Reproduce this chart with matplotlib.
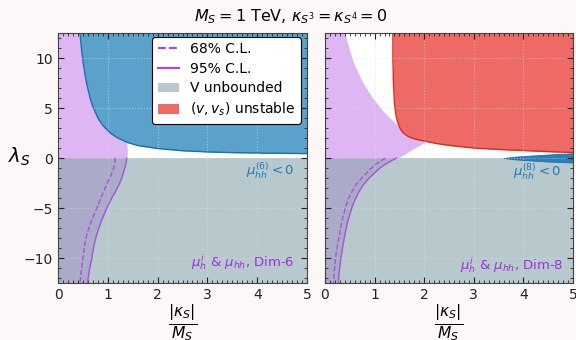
import matplotlib.pyplot as plt
import numpy as np
from matplotlib.lines import Line2D
from matplotlib.patches import Patch
from matplotlib.ticker import MultipleLocator

# --- Dim-6 panel ---------------------------------------------------------
# mu_hh^(6) < 0 region boundary (kappa, lambda)
k_neg6 = [0.44, 0.47, 0.5, 0.55, 0.6, 0.65, 0.7, 0.8, 0.9, 1.05, 1.2, 1.4, 1.6,
          2.0, 2.5, 3.0, 3.5, 4.0, 4.5, 5.0]
l_neg6 = [12.5, 11.0, 9.7, 8.1, 6.9, 5.9, 5.15, 4.0, 3.25, 2.5, 2.0, 1.55, 1.25,
          0.95, 0.73, 0.61, 0.54, 0.5, 0.47, 0.44]

# 95% C.L. allowed region, upper half (lambda -> kappa)
l_up6 = [0.0, 0.5, 1.0, 1.5, 2.0, 2.5, 3.0, 4.0, 5.0, 7.5, 10.0, 12.5]
k_up6 = [1.38, 1.39, 1.39, 1.38, 1.37, 1.35, 1.32, 1.25, 1.15, 0.95, 0.8, 0.7]

# 95% / 68% contours for lambda < 0
l_lo6 = [0.0, -0.5, -1.0, -1.5, -2.0, -2.6, -3.3, -4.0, -5.0, -6.3, -7.6, -8.8,
         -10.0, -11.2, -12.5]
k95_6 = [1.38, 1.37, 1.34, 1.31, 1.28, 1.23, 1.16, 1.08, 0.98, 0.87, 0.78, 0.72,
         0.68, 0.63, 0.59]
k68_6 = [1.15, 1.14, 1.12, 1.08, 1.04, 0.98, 0.92, 0.86, 0.78, 0.67, 0.58, 0.53,
         0.5, 0.47, 0.44]

# --- Dim-8 panel ---------------------------------------------------------
# (v, v_s) unstable region boundary
k_unst = [1.37, 1.37, 1.38, 1.40, 1.43, 1.47, 1.52, 1.58, 1.66, 1.76, 1.9, 2.05,
          2.25, 2.5, 3.0, 3.5, 4.0, 4.5, 5.0]
l_unst = [12.5, 10.0, 7.5, 5.5, 4.3, 3.5, 2.9, 2.5, 2.2, 1.98, 1.8, 1.65, 1.45,
          1.27, 1.0, 0.86, 0.75, 0.64, 0.55]

# mu_hh^(8) < 0 sliver
k_neg8 = [3.6, 3.8, 4.0, 4.5, 5.0]
l_neg8_hi = [0.0, 0.12, 0.2, 0.35, 0.48]
l_neg8_lo = [0.0, -0.12, -0.2, -0.35, -0.45]

# 95% C.L. allowed region, upper half
l_up8 = [0.0, 0.1, 0.5, 0.9, 1.3, 1.6, 1.8, 2.0, 2.4, 2.9, 3.4, 4.0, 4.7, 5.5,
         6.0, 6.7, 7.5, 8.4, 9.5, 10.7, 12.5]
k_up8 = [1.45, 1.51, 1.65, 1.77, 1.92, 2.02, 1.95, 1.85, 1.72, 1.58, 1.44, 1.31,
         1.17, 1.04, 0.96, 0.87, 0.77, 0.68, 0.58, 0.5, 0.4]

l_lo8 = [0.0, -0.3, -0.6, -1.0, -1.3, -2.0, -2.7, -3.5, -4.2, -5.0, -6.3, -7.7,
         -8.8, -10.0, -11.2, -12.5]
k95_8 = [1.44, 1.33, 1.22, 1.11, 1.04, 0.89, 0.77, 0.67, 0.6, 0.54, 0.46, 0.4,
         0.36, 0.32, 0.29, 0.27]
k68_8 = [1.22, 1.12, 1.03, 0.94, 0.88, 0.74, 0.62, 0.53, 0.46, 0.41, 0.34, 0.29,
         0.25, 0.21, 0.19, 0.17]

purple = '#b45ee6'
purple_line = '#a040d8'
grey = '#8aa5ad'
blue_fill = '#5aa2cb'
blue_edge = '#1a6fae'
red_fill = '#ee6a64'
red_edge = '#e0281e'

fig = plt.figure(figsize=(5.76, 3.40), dpi=100)
fig.patch.set_facecolor('#fcf8f7')
ax1 = fig.add_axes([0.1007, 0.1676, 0.4323, 0.7353])
ax2 = fig.add_axes([0.5642, 0.1676, 0.4306, 0.7353])

YMIN, YMAX = -12.5, 12.5


def allowed(ax, l_up, k_up, l_lo, k95, k68):
    ax.fill_betweenx(l_up, 0, k_up, color=purple, alpha=0.45, lw=0, zorder=1)
    ax.fill_betweenx(l_lo, 0, k95, color=purple, alpha=0.45, lw=0, zorder=1)
    ax.fill_between([0, 5], YMIN, 0, color=grey, alpha=0.6, lw=0, zorder=1.1)
    ax.plot(k95, l_lo, color=purple_line, lw=1.0, alpha=0.8, zorder=2)
    ax.plot(k68, l_lo, color=purple_line, lw=1.0, ls='--', alpha=0.8, zorder=2)


allowed(ax1, l_up6, k_up6, l_lo6, k95_6, k68_6)
ax1.fill_between(k_neg6, l_neg6, YMAX, color=blue_fill, lw=0, zorder=1.2)
ax1.plot(k_neg6, l_neg6, color=blue_edge, lw=1.0, zorder=1.3)

allowed(ax2, l_up8, k_up8, l_lo8, k95_8, k68_8)
ax2.fill_between(k_unst, l_unst, YMAX, color=red_fill, lw=0, zorder=1.2)
ax2.plot(k_unst, l_unst, color=red_edge, lw=1.0, zorder=1.3)
ax2.fill_between(k_neg8, l_neg8_lo, l_neg8_hi, color='#2a80bd', lw=0.6,
                 edgecolor=blue_edge, zorder=1.4)

for ax in (ax1, ax2):
    ax.set_xlim(0, 5)
    ax.set_ylim(YMIN, YMAX)
    ax.xaxis.set_major_locator(MultipleLocator(1))
    ax.xaxis.set_minor_locator(MultipleLocator(0.1))
    ax.yaxis.set_major_locator(MultipleLocator(5))
    ax.yaxis.set_minor_locator(MultipleLocator(1))
    ax.tick_params(which='both', direction='in', top=True, right=True,
                   labelsize=10, colors='#222222')
    ax.tick_params(which='major', length=4)
    ax.tick_params(which='minor', length=2)
    ax.grid(True, color='#dddddd', alpha=0.6, lw=0.8, ls=':')
    for s in ax.spines.values():
        s.set_color('#444444')
    ax.set_xlabel(r'$\frac{|\kappa_S|}{M_S}$', fontsize=16, labelpad=0)

ax2.tick_params(labelleft=False)

ax1.text(0.95, 0.45, r'$\mu_{hh}^{(6)} < 0$', transform=ax1.transAxes,
         ha='right', va='center', color='#1f77b4', fontsize=9.5)
ax1.text(0.95, 0.084, r'$\mu_h^i$ & $\mu_{hh}$, Dim-6', transform=ax1.transAxes,
         ha='right', va='center', color='#9b30d9', fontsize=9.5)
ax2.text(0.955, 0.444, r'$\mu_{hh}^{(8)} < 0$', transform=ax2.transAxes,
         ha='right', va='center', color='#1f77b4', fontsize=9.5)
ax2.text(0.96, 0.072, r'$\mu_h^i$ & $\mu_{hh}$, Dim-8', transform=ax2.transAxes,
         ha='right', va='center', color='#9b30d9', fontsize=9.5)

handles = [
    Line2D([], [], color='#b040e8', ls='--', lw=1.5),
    Line2D([], [], color='#b040e8', lw=1.5),
    Patch(facecolor=grey, alpha=0.6),
    Patch(facecolor=red_fill),
]
labels = ['68% C.L.', '95% C.L.', 'V unbounded', r'$(v, v_s)$ unstable']
leg = ax1.legend(handles, labels, loc='upper right', bbox_to_anchor=(0.975, 0.985),
                 borderaxespad=0, fontsize=10, framealpha=1, edgecolor='black',
                 handlelength=1.5, labelspacing=0.4)
leg.get_frame().set_linewidth(0.8)
leg.set_zorder(5)

fig.text(0.033, 0.538, r'$\lambda_S$', fontsize=14, ha='center', va='center')
fig.text(0.505, 0.952, r'$M_S = 1$ TeV, $\kappa_{S^3} = \kappa_{S^4} = 0$',
         fontsize=11.5, ha='center', va='center')

fig.savefig('out.png', dpi=100, facecolor=fig.get_facecolor())
